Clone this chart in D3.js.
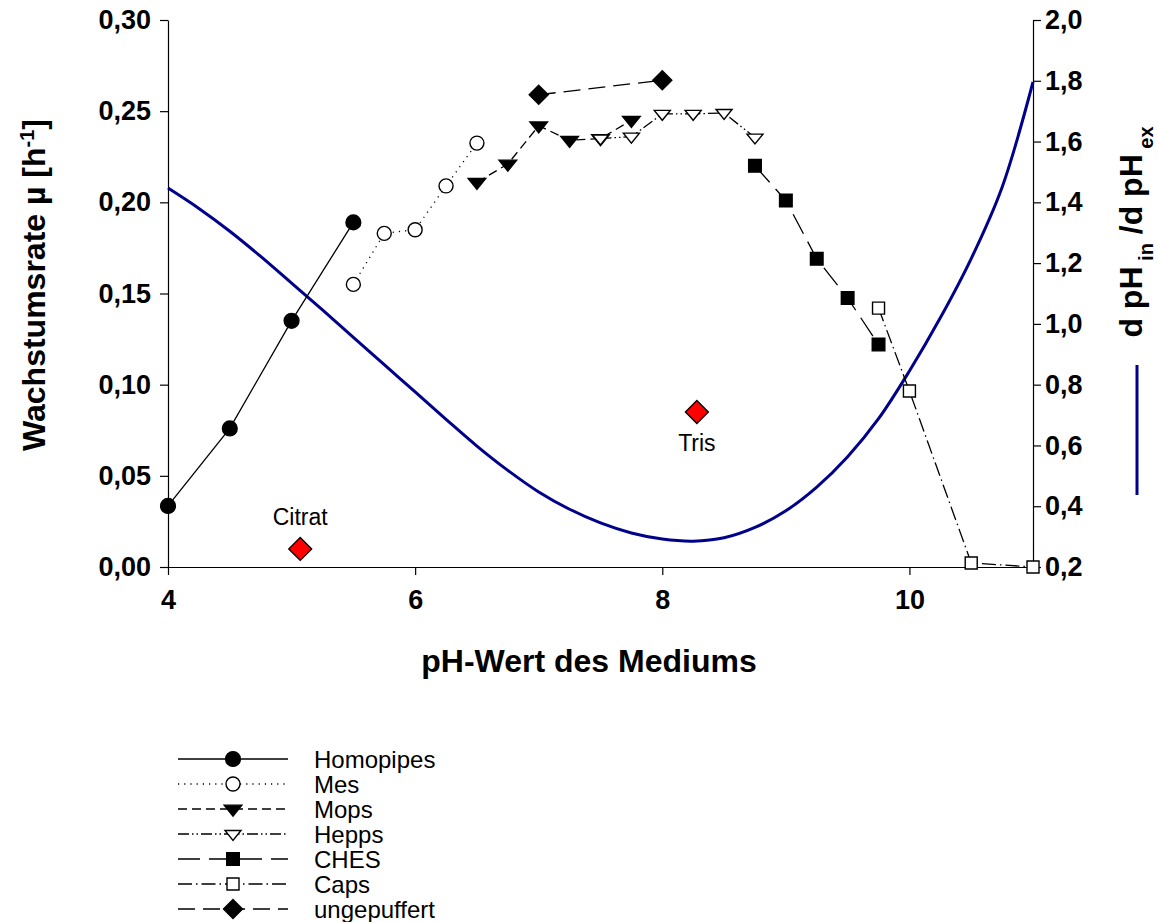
<!DOCTYPE html>
<html>
<head>
<meta charset="utf-8">
<script src="https://cdn.jsdelivr.net/npm/d3@7"></script>
<style>
  body { margin: 0; background: #fff; }
  text { font-family: "Liberation Sans", Arial, sans-serif; }
</style>
</head>
<body>
<svg id="chart" width="1158" height="922"></svg>
<script>
// Growth rate (µ, h^-1) against medium pH, per buffer system: [pH, µ]
const homopipes   = [[4.0, 0.0335], [4.5, 0.076], [5.0, 0.135], [5.5, 0.189]];
const mes         = [[5.5, 0.155], [5.75, 0.183], [6.0, 0.185], [6.25, 0.209], [6.5, 0.2325]];
const mops        = [[6.5, 0.211], [6.75, 0.221], [7.0, 0.242], [7.25, 0.234], [7.5, 0.235], [7.75, 0.245]];
const hepps       = [[7.5, 0.235], [7.75, 0.236], [8.0, 0.2485], [8.25, 0.2485], [8.5, 0.249], [8.75, 0.2355]];
const ches        = [[8.75, 0.220], [9.0, 0.201], [9.25, 0.169], [9.5, 0.1475], [9.75, 0.122]];
const caps        = [[9.75, 0.142], [10.0, 0.0965], [10.5, 0.0022], [11.0, 0.0]];
const ungepuffert = [[7.0, 0.259], [8.0, 0.267]];

// Single measurements with other buffers
const extraPoints = [
  { label: "Citrat", ph: 5.07, mu: 0.0099, pos: "above" },
  { label: "Tris",   ph: 8.28, mu: 0.085,  pos: "below" }
];

// d pH_in / d pH_ex against pH (right axis)
const ratioPH    = [4.0, 4.25, 4.5, 4.75, 5.0, 5.25, 5.5, 5.75, 6.0, 6.25, 6.5, 6.75, 7.0, 7.25, 7.5,
                    7.75, 8.0, 8.25, 8.5, 8.75, 9.0, 9.25, 9.5, 9.75, 10.0, 10.25, 10.5, 10.75, 11.0];
const ratioValue = [1.447, 1.380, 1.305, 1.222, 1.134, 1.046, 0.956, 0.866, 0.776, 0.686, 0.598, 0.518, 0.447, 0.390, 0.345,
                    0.312, 0.292, 0.285, 0.296, 0.330, 0.385, 0.463, 0.563, 0.688, 0.845, 1.020, 1.215, 1.450, 1.796];

// Axis ticks
const xTicks      = [4, 6, 8, 10];
const yLeftTicks  = [0, 0.05, 0.10, 0.15, 0.20, 0.25, 0.30];
const yRightTicks = [0.2, 0.4, 0.6, 0.8, 1.0, 1.2, 1.4, 1.6, 1.8, 2.0];

const svg = d3.select("#chart");
const margin = { left: 168, right: 1033, top: 20, bottom: 567 };

const x = d3.scaleLinear().domain([4, 11]).range([margin.left, margin.right]);
const yL = d3.scaleLinear().domain([0, 0.30]).range([margin.bottom, margin.top]);
const yR = d3.scaleLinear().domain([0.2, 2.0]).range([margin.bottom, margin.top]);

const deFormat = d3.formatLocale({ decimal: ",", thousands: ".", grouping: [3], currency: ["", " €"] });
const fmt2 = deFormat.format(".2f");
const fmt1 = deFormat.format(".1f");

// Marker shapes
const shapes = {
  circle:   { draw(c, s) { const r = s; c.moveTo(r, 0); c.arc(0, 0, r, 0, 2 * Math.PI); } },
  triDown:  { draw(c, s) { const w = s, h = s * 0.8; c.moveTo(-w, -h * 0.55); c.lineTo(w, -h * 0.55); c.lineTo(0, h * 1.0); c.closePath(); } },
  square:   { draw(c, s) { c.rect(-s, -s, 2 * s, 2 * s); } },
  diamond:  { draw(c, s) { c.moveTo(0, -s); c.lineTo(s, 0); c.lineTo(0, s); c.lineTo(-s, 0); c.closePath(); } }
};

const series = [
  { name: "Homopipes",   data: homopipes,   shape: "circle",  size: 7.4, fill: "#000", dash: null },
  { name: "Mes",         data: mes,         shape: "circle",  size: 7,   fill: "#fff", dash: "1.2,5" },
  { name: "Mops",        data: mops,        shape: "triDown", size: 8.8, fill: "#000", dash: "9,5" },
  { name: "Hepps",       data: hepps,       shape: "triDown", size: 8,   fill: "#fff", dash: "11,3,1.5,3,1.5,3" },
  { name: "CHES",        data: ches,        shape: "square",  size: 6.3, fill: "#000", dash: "22,9" },
  { name: "Caps",        data: caps,        shape: "square",  size: 6,   fill: "#fff", dash: "14,4,1.5,4" },
  { name: "ungepuffert", data: ungepuffert, shape: "diamond", size: 9.5, fill: "#000", dash: "17,8" }
];

// Axes
const axisBottom = d3.axisBottom(x).tickValues(xTicks).tickSize(8).tickSizeOuter(0).tickFormat(d3.format("d"));
const axisLeft = d3.axisLeft(yL).tickValues(yLeftTicks).tickSize(8).tickSizeOuter(0).tickFormat(fmt2);
const axisRight = d3.axisRight(yR).tickValues(yRightTicks).tickSize(8).tickSizeOuter(0).tickFormat(fmt1);

function styleAxis(g) {
  g.selectAll(".domain").attr("stroke", "#000").attr("stroke-width", 1.2);
  g.selectAll(".tick line").attr("stroke", "#000").attr("stroke-width", 1.2);
  g.selectAll(".tick text")
    .attr("font-family", "Liberation Sans, Arial, sans-serif")
    .attr("font-weight", "bold")
    .attr("font-size", 27)
    .attr("fill", "#000");
}

svg.append("g").attr("transform", `translate(0,${margin.bottom})`).call(axisBottom).call(styleAxis)
  .selectAll(".tick text").attr("y", 42).attr("dy", 0);
svg.append("g").attr("transform", `translate(${margin.left},0)`).call(axisLeft).call(styleAxis)
  .selectAll(".tick text").attr("x", -17);
svg.append("g").attr("transform", `translate(${margin.right},0)`).call(axisRight).call(styleAxis)
  .selectAll(".tick text").attr("x", 12);

// Right-axis curve
const ratioPoints = ratioPH.map((p, i) => [p, ratioValue[i]]);
svg.append("path")
  .datum(ratioPoints)
  .attr("fill", "none")
  .attr("stroke", "#00008b")
  .attr("stroke-width", 3)
  .attr("d", d3.line().x(d => x(d[0])).y(d => yR(d[1])).curve(d3.curveCatmullRom.alpha(0.5)));

// Series lines
const line = d3.line().x(d => x(d[0])).y(d => yL(d[1]));
series.forEach(s => {
  svg.append("path")
    .datum(s.data)
    .attr("fill", "none")
    .attr("stroke", "#000")
    .attr("stroke-width", 1.3)
    .attr("stroke-dasharray", s.dash)
    .attr("d", line);
});

// Series markers
series.forEach(s => {
  svg.append("g").selectAll("path")
    .data(s.data)
    .join("path")
    .attr("transform", d => `translate(${x(d[0])},${yL(d[1])})`)
    .attr("d", d3.symbol(shapes[s.shape], s.size)())
    .attr("fill", s.fill)
    .attr("stroke", "#000")
    .attr("stroke-width", 1.4);
});

// Single-buffer points
const extra = svg.append("g");
extraPoints.forEach(p => {
  extra.append("path")
    .attr("transform", `translate(${x(p.ph)},${yL(p.mu)})`)
    .attr("d", d3.symbol(shapes.diamond, 11.5)())
    .attr("fill", "#ff0000")
    .attr("stroke", "#000")
    .attr("stroke-width", 1.3);
  extra.append("text")
    .attr("x", x(p.ph))
    .attr("y", yL(p.mu) + (p.pos === "above" ? -24 : 39))
    .attr("text-anchor", "middle")
    .attr("font-size", 23)
    .text(p.label);
});

// Axis titles
svg.append("text")
  .attr("x", 589)
  .attr("y", 672)
  .attr("text-anchor", "middle")
  .attr("font-weight", "bold")
  .attr("font-size", 32)
  .text("pH-Wert des Mediums");

const leftTitle = svg.append("text")
  .attr("transform", `translate(45,285) rotate(-90)`)
  .attr("text-anchor", "middle")
  .attr("font-weight", "bold")
  .attr("font-size", 32);
leftTitle.append("tspan").text("Wachstumsrate µ [h");
leftTitle.append("tspan").attr("font-size", 20).attr("baseline-shift", "super").text("-1");
leftTitle.append("tspan").text("]");

const rightTitle = svg.append("text")
  .attr("transform", `translate(1142,232) rotate(-90)`)
  .attr("text-anchor", "middle")
  .attr("font-weight", "bold")
  .attr("font-size", 32);
rightTitle.append("tspan").text("d pH");
rightTitle.append("tspan").attr("font-size", 20).attr("baseline-shift", "sub").text(" in");
rightTitle.append("tspan").text(" /d pH");
rightTitle.append("tspan").attr("font-size", 20).attr("baseline-shift", "sub").text(" ex");

// Colour key for the right-axis curve
svg.append("line")
  .attr("x1", 1137).attr("x2", 1137)
  .attr("y1", 365).attr("y2", 495)
  .attr("stroke", "#00008b")
  .attr("stroke-width", 3);

// Legend
const legend = svg.append("g");
const legendTop = 759, legendStep = 25;
series.forEach((s, i) => {
  const ly = legendTop + i * legendStep;
  legend.append("line")
    .attr("x1", 178).attr("x2", 288)
    .attr("y1", ly).attr("y2", ly)
    .attr("stroke", "#000")
    .attr("stroke-width", 1.3)
    .attr("stroke-dasharray", s.dash);
  legend.append("path")
    .attr("transform", `translate(233,${ly})`)
    .attr("d", d3.symbol(shapes[s.shape], s.size)())
    .attr("fill", s.fill)
    .attr("stroke", "#000")
    .attr("stroke-width", 1.4);
  legend.append("text")
    .attr("x", 314)
    .attr("y", ly + 9)
    .attr("font-size", 24)
    .text(s.name);
});
</script>
</body>
</html>
